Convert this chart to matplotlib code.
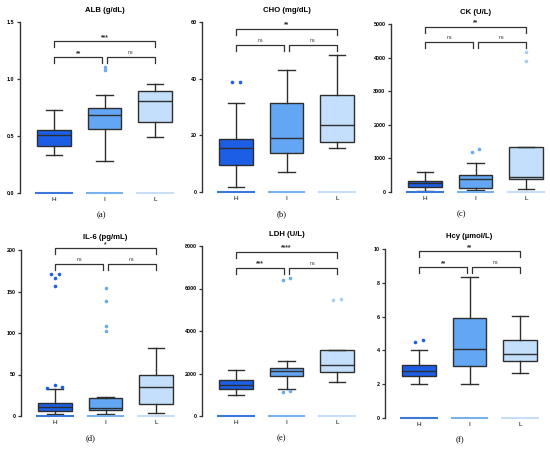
import matplotlib
matplotlib.use("Agg")
import matplotlib.pyplot as plt
import numpy as np

plt.rcParams['font.family'] = ['Liberation Sans', 'DejaVu Sans']

groups = ["H", "I", "L"]

# box stats per panel: whislo, q1, median, q3, whishi (one entry per group)
alb_lo = [0.33, 0.28, 0.49]
alb_q1 = [0.415, 0.56, 0.62]
alb_med = [0.505, 0.685, 0.81]
alb_q3 = [0.555, 0.745, 0.895]
alb_hi = [0.73, 0.86, 0.96]
alb_fl = [[], [1.075, 1.105], []]

cho_lo = [1.7, 7.0, 15.6]
cho_q1 = [9.6, 13.9, 17.6]
cho_med = [15.4, 18.9, 23.6]
cho_q3 = [18.8, 31.3, 34.4]
cho_hi = [31.4, 43.0, 48.5]
cho_fl = [[39.0, 39.0], [], []]

ck_lo = [42, 45, 80]
ck_q1 = [140, 131, 388]
ck_med = [260, 388, 447]
ck_q3 = [340, 498, 1340]
ck_hi = [596, 865, 1340]
ck_fl = [[], [1190, 1280], [3896, 4175]]

il6_lo = [2.0, 2.8, 3.6]
il6_q1 = [6.4, 6.8, 14.8]
il6_med = [11.2, 9.2, 35.3]
il6_q3 = [15.2, 22.0, 49.3]
il6_hi = [32.5, 22.4, 81.8]
il6_fl = [[170.7, 170.7, 166.0, 156.3, 34.0, 37.3, 35.0], [154.0, 138.0, 108.0, 102.6], []]

ldh_lo = [987, 1268, 1613]
ldh_q1 = [1268, 1863, 2083]
ldh_med = [1456, 2130, 2396]
ldh_q3 = [1707, 2239, 3100]
ldh_hi = [2177, 2568, 3100]
ldh_fl = [[], [1127, 1175, 6405, 6515], [5466, 5528]]

hcy_lo = [2.01, 2.01, 2.68]
hcy_q1 = [2.5, 3.06, 3.37]
hcy_med = [2.76, 4.1, 3.8]
hcy_q3 = [3.12, 5.9, 4.62]
hcy_hi = [4.02, 8.32, 6.04]
hcy_fl = [[4.5, 4.63], [], []]

# significance labels: H-I, I-L, H-L
alb_sig = ["**", "ns", "***"]
cho_sig = ["ns", "ns", "**"]
ck_sig = ["ns", "ns", "**"]
il6_sig = ["ns", "ns", "*"]
ldh_sig = ["***", "ns", "****"]
hcy_sig = ["**", "ns", "**"]

# bracket levels (lower, upper)
alb_br = [1.19, 1.33]
cho_br = [52, 57.6]
ck_br = [4473, 4920]
il6_br = [182.8, 202]
ldh_br = [6984, 7736]
hcy_br = [8.93, 9.86]

fill = ["#1c5fe6", "#63a6f3", "#c3dffb"]
flier_col = ["#1c5fe6", "#6aaaf0", "#a7cdf3"]
zero_col = ["#3b78dc", "#78b2ee", "#c8def6"]
edge = "#2e2e2e"

fig = plt.figure(figsize=(5.5, 4.5), dpi=100)
W, H = 550, 450
XMIN, XMAX = 0.33, 3.45
SPACING = 50.6


def make_ax(left, top, bottom):
    width = (XMAX - XMIN) * SPACING
    return fig.add_axes([left / W, (H - bottom) / H, width / W, (bottom - top) / H])


def dodge(vals, ymax, px_h):
    # spread fliers that would overlap
    offs = np.zeros(len(vals))
    used = [False] * len(vals)
    for i in range(len(vals)):
        if used[i]:
            continue
        cluster = [i]
        used[i] = True
        changed = True
        while changed:
            changed = False
            for j in range(len(vals)):
                if not used[j] and any(abs(vals[j] - vals[k]) / ymax * px_h < 3.2 for k in cluster):
                    cluster.append(j)
                    used[j] = True
                    changed = True
        n = len(cluster)
        for m, k in enumerate(cluster):
            offs[k] = (m - (n - 1) / 2) * 0.15
    return offs


def panel(left, top, bottom, title, ymax, step, fmt, lo, q1, med, q3, hi, fl, sig, br, letter, lab_x):
    ax = make_ax(left, top, bottom)
    pos = [1, 2, 3]
    stats = []
    for i in range(3):
        stats.append(dict(whislo=lo[i], q1=q1[i], med=med[i], q3=q3[i], whishi=hi[i], fliers=[]))
    bp = ax.bxp(stats, positions=pos, widths=0.66, patch_artist=True, showfliers=False,
                boxprops=dict(edgecolor=edge, linewidth=1.0),
                medianprops=dict(color=edge, linewidth=1.0),
                whiskerprops=dict(color=edge, linewidth=1.0),
                capprops=dict(color=edge, linewidth=1.0),
                capwidths=0.33)
    for patch, c in zip(bp['boxes'], fill):
        patch.set_facecolor(c)
    px_h = bottom - top
    for i in range(3):
        if fl[i]:
            offs = dodge(fl[i], ymax, px_h)
            ax.plot(np.array(pos[i]) + offs, fl[i], 'o', ms=2.6, color=flier_col[i],
                    mec='none', clip_on=False)
        ax.hlines(0, pos[i] - 0.37, pos[i] + 0.37, color=zero_col[i], lw=1.5, zorder=3,
                  clip_on=False)

    # significance brackets
    d = 0.035 * ymax
    kw = dict(color="#333333", lw=0.9, clip_on=False)
    lower, upper = br
    segs = [(1, 1.96, lower, sig[0]), (2.04, 3, lower, sig[1]), (1, 3, upper, sig[2])]
    for x0, x1, y, s in segs:
        ax.plot([x0, x0, x1, x1], [y - d, y, y, y - d], **kw)
        if s == "ns":
            ax.text((x0 + x1) / 2, y + 0.012 * ymax, s, ha='center', va='bottom',
                    fontsize=3.8, color="#333333")
        else:
            ax.text((x0 + x1) / 2, y + 0.002 * ymax, s, ha='center', va='bottom',
                    fontsize=4.8, color="#333333", fontweight='bold')

    ax.set_xlim(XMIN, XMAX)
    ax.set_ylim(0, ymax)
    ticks = np.arange(0, ymax + step / 2, step)
    ax.set_yticks(ticks)
    ax.set_yticklabels([fmt.format(t) for t in ticks], fontsize=3.9, fontweight='bold')
    ax.set_xticks(pos)
    ax.set_xticklabels(groups, fontsize=4.6)
    ax.tick_params(axis='x', length=0, pad=3)
    ax.tick_params(axis='y', length=2.5, width=0.9, color="#333333", pad=1.5)
    for s in ['top', 'right', 'bottom']:
        ax.spines[s].set_visible(False)
    ax.spines['left'].set_linewidth(1.0)
    ax.spines['left'].set_color("#333333")
    ax.patch.set_alpha(0)
    fig.text((left + (2 - XMIN) * SPACING) / W, 1 - (top - 12) / H, title, ha='center', va='center',
             fontsize=5.6, fontweight='bold')
    lab_y = bottom + 22
    fig.text(lab_x / W, 1 - lab_y / H, letter, ha='center', va='center', fontsize=6.2,
             family='Liberation Serif')
    return ax


panel(20, 22, 193, "ALB (g/dL)", 1.5, 0.5, "{:.1f}", alb_lo, alb_q1, alb_med, alb_q3, alb_hi,
      alb_fl, alb_sig, alb_br, "(a)", 101)
panel(202, 22, 192, "CHO (mg/dL)", 60, 20, "{:.0f}", cho_lo, cho_q1, cho_med, cho_q3, cho_hi,
      cho_fl, cho_sig, cho_br, "(b)", 282)
panel(391, 24, 192, "CK (U/L)", 5000, 1000, "{:.0f}", ck_lo, ck_q1, ck_med, ck_q3, ck_hi,
      ck_fl, ck_sig, ck_br, "(c)", 461)
panel(21, 250, 416, "IL-6 (pg/mL)", 200, 50, "{:.0f}", il6_lo, il6_q1, il6_med, il6_q3, il6_hi,
      il6_fl, il6_sig, il6_br, "(d)", 91)
panel(202, 246, 416, "LDH (U/L)", 8000, 2000, "{:.0f}", ldh_lo, ldh_q1, ldh_med, ldh_q3, ldh_hi,
      ldh_fl, ldh_sig, ldh_br, "(e)", 281)
panel(385, 249, 418, "Hcy (µmol/L)", 10, 2, "{:.0f}", hcy_lo, hcy_q1, hcy_med, hcy_q3, hcy_hi,
      hcy_fl, hcy_sig, hcy_br, "(f)", 460)

fig.savefig("out.png", dpi=100, facecolor="white")
